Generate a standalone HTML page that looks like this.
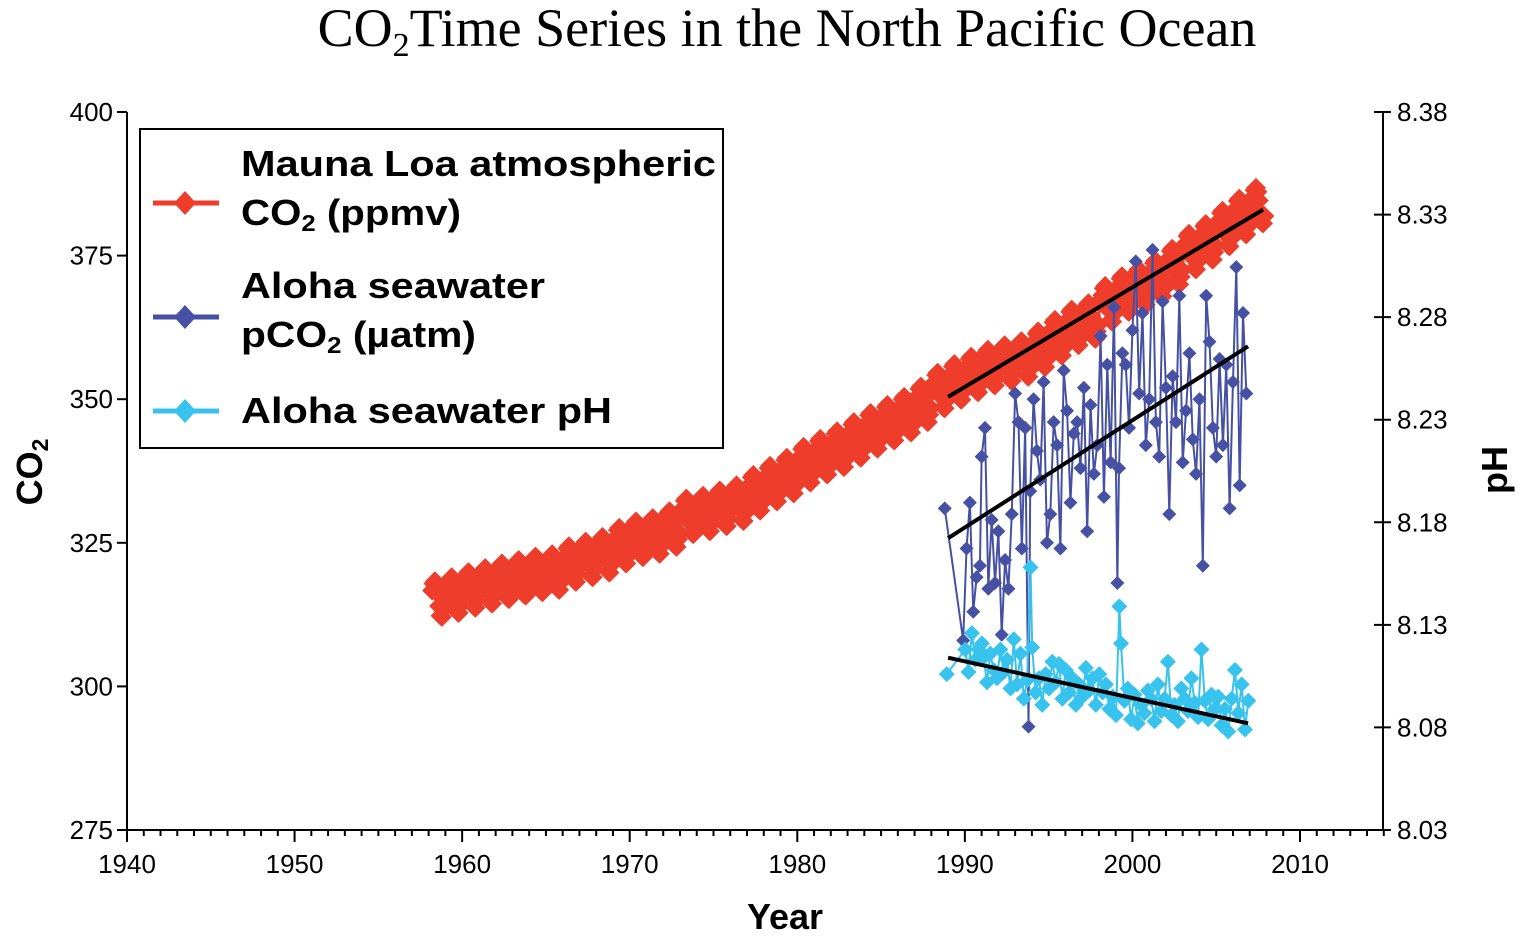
<!DOCTYPE html>
<html><head><meta charset="utf-8"><style>
html,body{margin:0;padding:0;background:#fff}
svg{display:block}
text{font-family:"Liberation Sans",Arial,sans-serif}
</style></head><body>
<svg id="chart" width="1520" height="940" viewBox="0 0 1520 940" xmlns="http://www.w3.org/2000/svg">
<text x="787" y="46" text-anchor="middle" style="font-family:'Liberation Serif',serif;font-size:54px">CO<tspan style="font-size:34px" dy="10">2</tspan><tspan dy="-10">Time Series in the North Pacific Ocean</tspan></text>
<g id="axes"></g>
<g id="marks"></g>
<g id="legend">
  <rect x="140" y="129" width="583" height="319" fill="#fff" stroke="#000" stroke-width="2"/>
  <g>
    <line x1="153" y1="203" x2="219" y2="203" stroke="#ee3d2b" stroke-width="5"/>
    <path d="M185,191 L196,203 L185,215 L174,203Z" fill="#ee3d2b"/>
    <text x="241" y="176" style="font-size:36px;font-weight:bold" textLength="475" lengthAdjust="spacingAndGlyphs">Mauna Loa atmospheric</text>
    <text x="241" y="225" style="font-size:36px;font-weight:bold" textLength="220" lengthAdjust="spacingAndGlyphs">CO<tspan style="font-size:23px" dy="6">2</tspan><tspan dy="-6"> (ppmv)</tspan></text>
  </g>
  <g>
    <line x1="153" y1="317" x2="219" y2="317" stroke="#4651a3" stroke-width="5"/>
    <path d="M185,305 L196,317 L185,329 L174,317Z" fill="#4651a3"/>
    <text x="241" y="298" style="font-size:36px;font-weight:bold" textLength="304" lengthAdjust="spacingAndGlyphs">Aloha seawater</text>
    <text x="241" y="347" style="font-size:36px;font-weight:bold" textLength="235" lengthAdjust="spacingAndGlyphs">pCO<tspan style="font-size:23px" dy="6">2</tspan><tspan dy="-6"> (µatm)</tspan></text>
  </g>
  <g>
    <line x1="153" y1="411" x2="219" y2="411" stroke="#38c3ee" stroke-width="5"/>
    <path d="M185,399 L196,411 L185,423 L174,411Z" fill="#38c3ee"/>
    <text x="241" y="423" style="font-size:36px;font-weight:bold" textLength="371" lengthAdjust="spacingAndGlyphs">Aloha seawater pH</text>
  </g>
</g>
<text transform="translate(42,472) rotate(-90)" text-anchor="middle" style="font-size:36px;font-weight:bold">CO<tspan style="font-size:23px" dy="6">2</tspan></text>
<text transform="translate(1507,470) rotate(-90)" text-anchor="middle" style="font-size:36px;font-weight:bold">pH</text>
<text x="785" y="929" text-anchor="middle" style="font-size:36px;font-weight:bold">Year</text>
</svg>
<script>
// ---- data ----
const mlYears=[1958,1959,1960,1961,1962,1963,1964,1965,1966,1967,1968,1969,1970,1971,1972,1973,1974,1975,1976,1977,1978,1979,1980,1981,1982,1983,1984,1985,1986,1987,1988,1989,1990,1991,1992,1993,1994,1995,1996,1997,1998,1999,2000,2001,2002,2003,2004,2005,2006,2007];
const mlAnnualMean=[315.3,316.0,316.9,317.6,318.4,319.0,319.6,320.0,321.4,322.2,323.0,324.6,325.7,326.3,327.5,329.7,330.2,331.1,332.0,333.8,335.4,336.8,338.7,340.1,341.4,343.0,344.6,346.0,347.4,349.2,351.6,353.1,354.4,355.6,356.4,357.1,358.8,360.8,362.6,363.7,366.7,368.4,369.6,371.1,373.2,375.8,377.5,379.8,381.9,383.8];
const mlSeasonal=[0.0,0.7,1.4,2.6,3.0,2.3,0.8,-1.3,-3.0,-3.2,-1.9,-0.7];
const alohaTimes=[1988.8,1989.9,1990.1,1990.3,1990.5,1990.7,1990.9,1991.0,1991.2,1991.4,1991.6,1991.8,1992.0,1992.2,1992.4,1992.6,1992.8,1993.0,1993.2,1993.4,1993.6,1993.8,1993.9,1994.1,1994.3,1994.5,1994.7,1994.9,1995.1,1995.3,1995.5,1995.7,1995.9,1996.1,1996.3,1996.5,1996.7,1996.9,1997.1,1997.3,1997.5,1997.7,1997.9,1998.1,1998.3,1998.5,1998.7,1998.9,1999.1,1999.2,1999.4,1999.6,1999.8,2000.0,2000.2,2000.4,2000.6,2000.8,2001.0,2001.2,2001.4,2001.6,2001.8,2002.0,2002.2,2002.4,2002.6,2002.8,2003.0,2003.2,2003.4,2003.6,2003.8,2004.0,2004.2,2004.4,2004.6,2004.8,2005.0,2005.2,2005.4,2005.6,2005.8,2006.0,2006.2,2006.4,2006.6,2006.8];
const alohaPco2=[331,308,324,332,313,319,321,340,345,317,329,318,327,309,322,317,330,351,346,324,345,293,334,350,341,336,353,325,330,346,342,324,355,348,332,344,346,338,352,327,349,337,342,361,333,356,339,366,318,338,358,356,345,362,374,351,365,342,350,376,346,340,367,352,330,354,346,368,339,348,358,343,337,350,321,368,360,345,340,357,342,356,331,353,373,335,365,351];
const alohaPh=[8.106,8.118,8.107,8.126,8.113,8.118,8.121,8.114,8.102,8.116,8.108,8.104,8.118,8.107,8.113,8.099,8.123,8.101,8.116,8.094,8.103,8.158,8.119,8.097,8.104,8.091,8.106,8.099,8.112,8.102,8.111,8.094,8.108,8.097,8.104,8.091,8.101,8.095,8.109,8.098,8.104,8.091,8.106,8.097,8.101,8.089,8.095,8.086,8.139,8.121,8.093,8.099,8.084,8.096,8.082,8.091,8.087,8.098,8.094,8.083,8.101,8.088,8.094,8.112,8.086,8.091,8.083,8.099,8.094,8.088,8.104,8.092,8.085,8.118,8.093,8.084,8.096,8.089,8.095,8.081,8.089,8.078,8.094,8.108,8.087,8.101,8.079,8.093];
const trendMl=[[1989,350.4],[2007.8,383]];
const trendPco2=[[1989,325.8],[2006.9,359.2]];
const trendPh=[[1989,8.114],[2006.9,8.082]];
const xTicks=[1940,1950,1960,1970,1980,1990,2000,2010];
const yTicks=[275,300,325,350,375,400];
const y2Ticks=["8.03","8.08","8.13","8.18","8.23","8.28","8.33","8.38"];
// ---- scales ----
const X0=127,X1=1383,YT=112,YB=830;
const xs=v=>X0+(v-1940)*(1300-127)/70;
const ys=v=>YB-(v-275)*(YB-YT)/125;
const yp=v=>YB-(v-8.03)*(YB-YT)/0.35;
const NS="http://www.w3.org/2000/svg";
function mk(tag,parent,attrs){const e=document.createElementNS(NS,tag);for(const k in attrs)e.setAttribute(k,attrs[k]);parent.appendChild(e);return e;}
const axes=document.getElementById('axes'),marks=document.getElementById('marks');
let l=mk('line',axes,{x1:118,y1:YB,x2:X1,y2:YB,stroke:'#000','stroke-width':2});


l=mk('line',axes,{x1:X0,y1:YT,x2:X0,y2:YB,stroke:'#000','stroke-width':2});


l=mk('line',axes,{x1:X1,y1:YT,x2:X1,y2:YB,stroke:'#000','stroke-width':2});


for(let yr=1940;yr<=2015;yr++){const major=yr%10===0;
 const t=mk('line',axes,{x1:xs(yr),y1:YB,x2:xs(yr),y2:YB+(major?12:6),stroke:'#000','stroke-width':2});
 
 }
xTicks.forEach(v=>{const t=mk('text',axes,{x:xs(v),y:873,'text-anchor':'middle',style:'font-size:26px'});t.textContent=v;
 
 });
yTicks.forEach(v=>{const y=ys(v);
 const t=mk('line',axes,{x1:X0-10,y1:y,x2:X0,y2:y,stroke:'#000','stroke-width':2});
 
 
 const s=mk('text',axes,{x:X0-14,y:y+9,'text-anchor':'end',style:'font-size:26px'});s.textContent=v;
 
 });
y2Ticks.forEach(v=>{const y=yp(parseFloat(v));
 const t=mk('line',axes,{x1:X1-9,y1:y,x2:X1+8,y2:y,stroke:'#000','stroke-width':2});
 
 
 const s=mk('text',axes,{x:X1+14,y:y+9,style:'font-size:26px'});s.textContent=v;
 
 });
function diamond(g,x,y,r,c){return mk('path',g,{d:`M${x},${y-r}L${x+r},${y}L${x},${y+r}L${x-r},${y}Z`,fill:c});}
const gml=mk('g',marks,{});


const mlPts=[];
mlYears.forEach((yr,i)=>{mlSeasonal.forEach((s,m)=>{const t=yr+(m+0.5)/12;if(t<1958.2||t>2007.9)return;mlPts.push([xs(t),ys(mlAnnualMean[i]+s)]);});});
mk('polyline',gml,{points:mlPts.map(p=>p.join(',')).join(' '),fill:'none',stroke:'#ee3d2b','stroke-width':3});
mlPts.forEach(p=>{const d=diamond(gml,p[0],p[1],10,'#ee3d2b');
 
 });
const gp=mk('g',marks,{});


const pPts=alohaTimes.map((t,i)=>[xs(t),ys(alohaPco2[i])]);
mk('polyline',gp,{points:pPts.map(p=>p.join(',')).join(' '),fill:'none',stroke:'#4651a3','stroke-width':2});
pPts.forEach(p=>{const d=diamond(gp,p[0],p[1],7,'#4651a3');
 
 });
const gh=mk('g',marks,{});


const hPts=alohaTimes.map((t,i)=>[xs(t)+2,yp(alohaPh[i])]);
mk('polyline',gh,{points:hPts.map(p=>p.join(',')).join(' '),fill:'none',stroke:'#38c3ee','stroke-width':2});
hPts.forEach(p=>{const d=diamond(gh,p[0],p[1],8,'#38c3ee');
 
 });
[[trendMl,ys,'trend-mauna-loa'],[trendPco2,ys,'trend-pco2'],[trendPh,yp,'trend-ph']].forEach(([tr,sc,nm])=>{
 const t=mk('line',marks,{x1:xs(tr[0][0]),y1:sc(tr[0][1]),x2:xs(tr[1][0]),y2:sc(tr[1][1]),stroke:'#000','stroke-width':4});
 
 });
</script>
</body></html>
